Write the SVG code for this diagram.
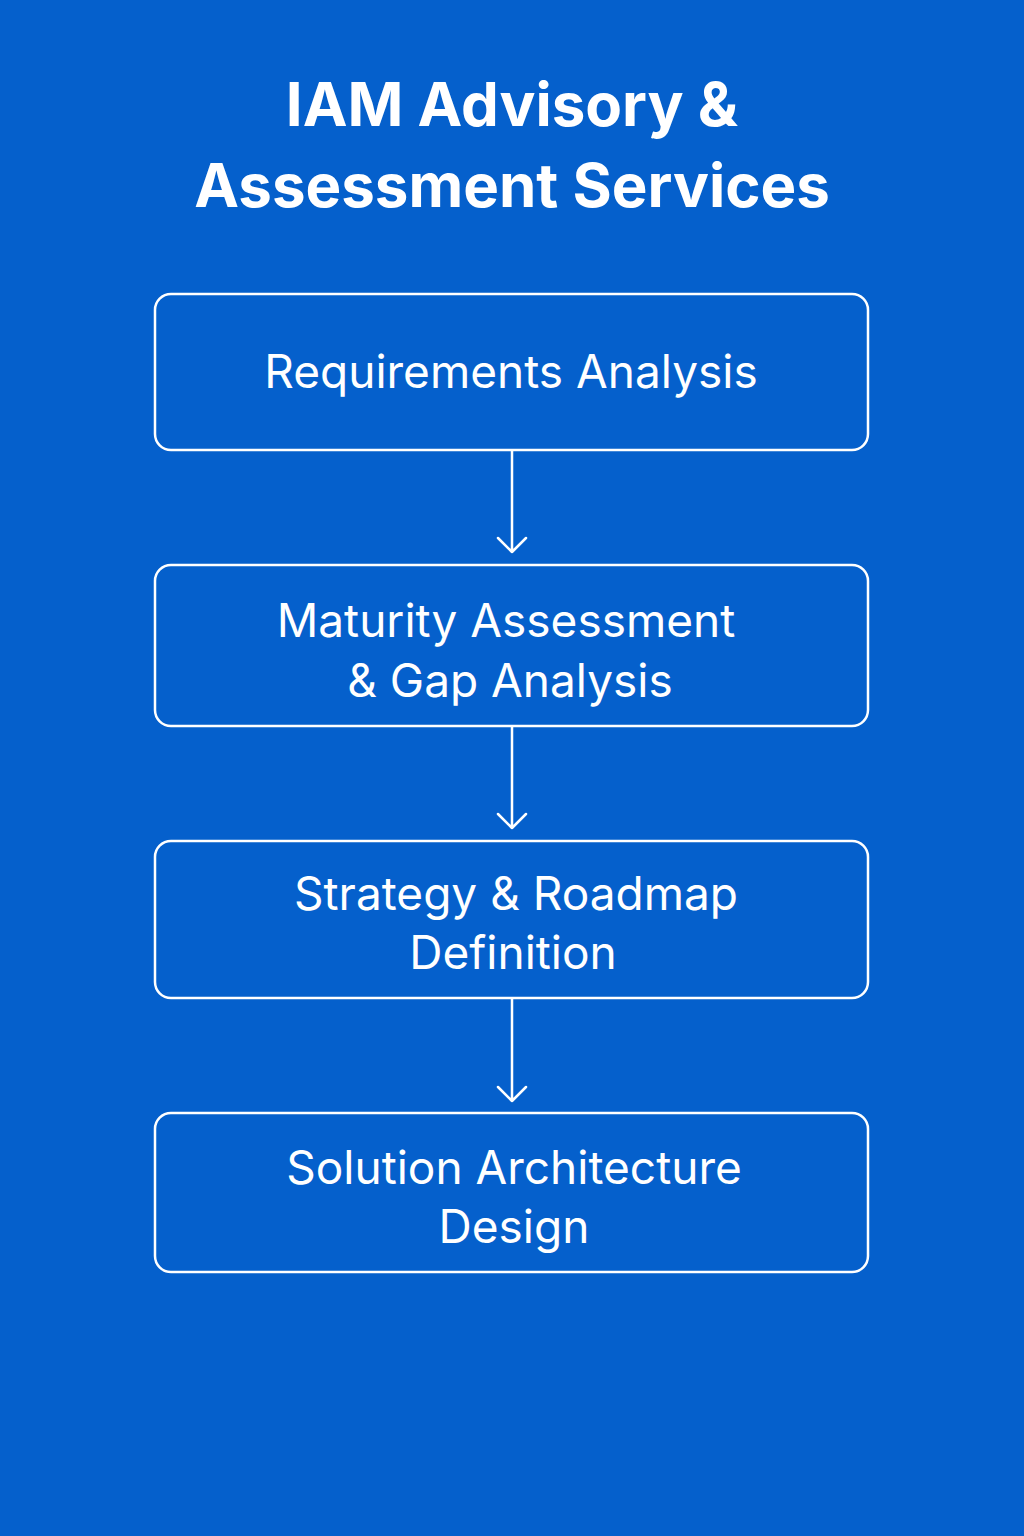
<svg xmlns="http://www.w3.org/2000/svg" width="1024" height="1536" viewBox="0 0 1024 1536">
<style>
.box{fill:none;stroke:#fff;stroke-width:2.5}
.t{font-family:Inter,"Noto Sans",sans-serif;fill:#fff;text-anchor:middle;font-size:46px}
.h{font-family:Inter,"Noto Sans",sans-serif;fill:#fff;text-anchor:middle;font-size:60px;font-weight:700}
.c{fill:none;stroke:#fff;stroke-width:2.5;stroke-linecap:round;stroke-linejoin:round}
</style>
<rect width="1024" height="1536" fill="#0560CC"/>
<text class="h" x="512" y="126">IAM Advisory &amp;</text>
<text class="h" x="512" y="207">Assessment Services</text>
<g id="n1"><rect class="box" x="155" y="294" width="713" height="156" rx="16"/><text class="t" x="511" y="388">Requirements Analysis</text></g>
<g id="n2"><rect class="box" x="155" y="565" width="713" height="161" rx="16"/><text class="t" x="506" y="637">Maturity Assessment</text><text class="t" x="510" y="697">&amp; Gap Analysis</text></g>
<g id="n3"><rect class="box" x="155" y="841" width="713" height="157" rx="16"/><text class="t" x="516" y="910">Strategy &amp; Roadmap</text><text class="t" x="513" y="969">Definition</text></g>
<g id="n4"><rect class="box" x="155" y="1113" width="713" height="159" rx="16"/><text class="t" x="514" y="1184">Solution Architecture</text><text class="t" x="514" y="1243">Design</text></g>
<g id="connectors">
<path class="c" d="M512 451V552M498 538L512 552L526 538"/>
<path class="c" d="M512 727V828M498 814L512 828L526 814"/>
<path class="c" d="M512 999V1101M498 1087L512 1101L526 1087"/>
</g>
</svg>
